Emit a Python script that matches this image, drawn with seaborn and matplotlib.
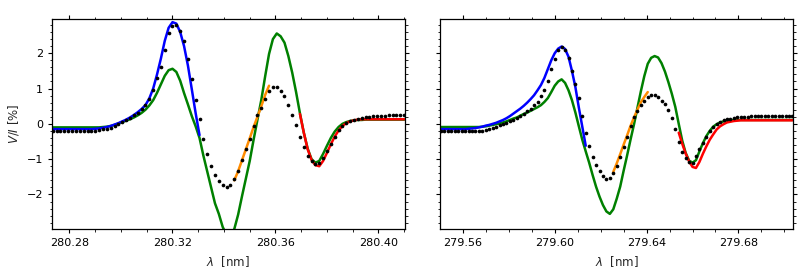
import numpy as np
import seaborn as sns
import matplotlib
matplotlib.use("Agg")
import matplotlib.pyplot as plt
from matplotlib.ticker import MultipleLocator, FormatStrFormatter

# wavelength sampling (nm)
STEP = 0.0015

# ---- left panel (280.3 nm line) ----
wl_left_start = 280.2735
obs_left = [-0.20] * 9 + [-0.19] * 3 + [
    -0.18, -0.16, -0.14, -0.11, -0.06, -0.01, 0.04, 0.10, 0.17, 0.24,
    0.32, 0.43, 0.54, 0.69, 0.97, 1.30, 1.62, 2.10, 2.56, 2.78,
    2.79, 2.64, 2.35, 1.85, 1.27, 0.68, 0.15, -0.43, -0.85, -1.20,
    -1.45, -1.63, -1.73, -1.78, -1.73, -1.57, -1.33, -1.02, -0.72, -0.42,
    -0.07, 0.24, 0.46, 0.70, 0.92, 1.04, 1.05, 0.93, 0.78, 0.53,
    0.26, -0.04, -0.36, -0.65, -0.92, -1.06, -1.14, -1.12, -0.98, -0.77,
    -0.57, -0.36, -0.18, -0.05, 0.03, 0.08, 0.11, 0.14, 0.16, 0.18,
    0.20, 0.21, 0.22, 0.23, 0.23, 0.24, 0.24, 0.24, 0.24, 0.24]
green_left = [-0.10] * 13 + [
    -0.09, -0.08, -0.06, -0.03, 0.01, 0.05, 0.09, 0.13, 0.18, 0.24,
    0.31, 0.40, 0.52, 0.67, 0.88, 1.12, 1.36, 1.52, 1.56, 1.47,
    1.22, 0.87, 0.55, 0.22, -0.07, -0.40, -0.90, -1.35, -1.80, -2.25,
    -2.55, -2.92, -3.15, -3.18, -2.98, -2.57, -2.05, -1.55, -1.05, -0.45,
    0.12, 0.68, 1.35, 1.98, 2.40, 2.56, 2.48, 2.30, 1.92, 1.45,
    0.90, 0.30, -0.25, -0.70, -1.00, -1.10, -1.05, -0.85, -0.62, -0.40,
    -0.22, -0.09, 0.00, 0.05, 0.08, 0.10, 0.11, 0.11] + [0.12] * 11
blue_left_start = 280.2735
blue_left = [-0.15] * 11 + [
    -0.14, -0.13, -0.11, -0.09, -0.06, -0.02, 0.02, 0.07, 0.12, 0.18,
    0.25, 0.33, 0.42, 0.53, 0.72, 1.00, 1.40, 1.85, 2.35, 2.72,
    2.88, 2.84, 2.60, 2.20, 1.65, 0.98, 0.30, -0.32]
orange_left_start = 280.3440
orange_left = [-1.60, -1.34, -1.03, -0.72, -0.41, -0.09, 0.20, 0.50, 0.82, 1.08]
red_left_start = 280.3695
red_left = [0.28, -0.25, -0.72, -1.02, -1.17, -1.20, -1.05, -0.82, -0.58, -0.36,
            -0.19, -0.06, 0.02, 0.07, 0.10, 0.12] + [0.13] * 12

# ---- right panel (279.6 nm line) ----
wl_right_start = 279.5505
obs_right = [-0.20] * 12 + [
    -0.19, -0.17, -0.15, -0.12, -0.08, -0.04, 0.00, 0.03, 0.07, 0.12,
    0.17, 0.22, 0.28, 0.36, 0.43, 0.52, 0.62, 0.78, 0.95, 1.20,
    1.54, 1.85, 2.08, 2.17, 2.10, 1.86, 1.50, 1.14, 0.72, 0.22,
    -0.25, -0.62, -0.95, -1.17, -1.34, -1.49, -1.55, -1.52, -1.39, -1.20,
    -0.95, -0.66, -0.36, -0.05, 0.18, 0.36, 0.52, 0.65, 0.75, 0.81,
    0.81, 0.76, 0.66, 0.55, 0.40, 0.16, -0.15, -0.50, -0.80, -0.98,
    -1.08, -1.10, -0.90, -0.72, -0.54, -0.37, -0.20, -0.08, 0.00, 0.06,
    0.10, 0.13, 0.15, 0.17, 0.18, 0.19, 0.20, 0.20] + [0.21] * 6 + [0.22] * 7
green_right = [-0.09] * 12 + [
    -0.08, -0.07, -0.05, -0.03, -0.01, 0.01, 0.04, 0.07, 0.11, 0.15,
    0.18, 0.23, 0.28, 0.32, 0.37, 0.42, 0.47, 0.53, 0.62, 0.73,
    0.90, 1.08, 1.20, 1.26, 1.16, 0.95, 0.67, 0.32, -0.07, -0.45,
    -0.78, -1.10, -1.45, -1.78, -2.06, -2.30, -2.48, -2.55, -2.42, -2.12,
    -1.78, -1.33, -0.90, -0.45, -0.02, 0.45, 0.92, 1.35, 1.70, 1.87,
    1.92, 1.88, 1.72, 1.48, 1.18, 0.85, 0.48, 0.00, -0.47, -0.82,
    -1.04, -1.10, -1.03, -0.78, -0.55, -0.35, -0.20, -0.08, -0.01, 0.04,
    0.07, 0.09, 0.10] + [0.11] * 18
blue_right_start = 279.5505
blue_right = [-0.15] * 8 + [
    -0.14, -0.13, -0.12, -0.10, -0.08, -0.05, -0.03, 0.00, 0.03, 0.07,
    0.11, 0.16, 0.22, 0.29, 0.36, 0.43, 0.51, 0.60, 0.70, 0.81,
    0.95, 1.10, 1.30, 1.55, 1.80, 2.00, 2.13, 2.19, 2.12, 1.90,
    1.50, 1.04, 0.46, -0.08, -0.62]
orange_right_start = 279.6255
orange_right = [-1.36, -1.12, -0.86, -0.59, -0.33, -0.06, 0.18, 0.40, 0.61, 0.76, 0.90]
red_right_start = 279.6540
red_right = [-0.25, -0.56, -0.84, -1.06, -1.22, -1.25, -1.08, -0.85, -0.64, -0.45,
             -0.30, -0.16, -0.07, -0.01, 0.04, 0.06, 0.08, 0.09] + [0.10] * 16

x_ticks_left = [280.28, 280.32, 280.36, 280.40]
x_ticks_right = [279.56, 279.60, 279.64, 279.68]


def grid(start, values):
    return start + STEP * np.arange(len(values))


def draw_panel(ax, wl_start, obs, green, blue, orange, red, xlim, xticks):
    kw = dict(ax=ax, linewidth=1.8, estimator=None, errorbar=None, legend=False)
    sns.lineplot(x=grid(wl_start, green), y=green, color="green", **kw)
    sns.lineplot(x=grid(blue[0], blue[1]), y=blue[1], color="blue", **kw)
    sns.lineplot(x=grid(orange[0], orange[1]), y=orange[1], color="darkorange", **kw)
    sns.lineplot(x=grid(red[0], red[1]), y=red[1], color="red", **kw)
    sns.scatterplot(x=grid(wl_start, obs), y=obs, color="black", s=7,
                    linewidth=0, ax=ax, zorder=5, legend=False)
    ax.set_xlim(*xlim)
    ax.set_xticks(xticks)
    ax.xaxis.set_major_formatter(FormatStrFormatter("%.2f"))
    ax.xaxis.set_minor_locator(MultipleLocator(0.01))
    ax.yaxis.set_major_locator(MultipleLocator(1))
    ax.yaxis.set_minor_locator(MultipleLocator(0.2))
    ax.tick_params(which="both", direction="out", top=True, right=True,
                   labelsize=8, colors="black")
    ax.tick_params(which="major", length=3, width=0.8)
    ax.tick_params(which="minor", length=1.8, width=0.6)
    for sp in ax.spines.values():
        sp.set_visible(True)
        sp.set_color("black")
        sp.set_linewidth(0.9)
    ax.set_xlabel(r"$\lambda$  [nm]", fontsize=8.5)


sns.set_style("ticks")
plt.rcParams["font.family"] = ["DejaVu Sans"]

fig, axes = plt.subplots(1, 2, figsize=(8.06, 2.74), dpi=100, sharey=True)
fig.subplots_adjust(left=0.0645, right=0.984, bottom=0.164, top=0.932, wspace=0.101)

draw_panel(axes[0], wl_left_start, obs_left, green_left,
           (blue_left_start, blue_left), (orange_left_start, orange_left),
           (red_left_start, red_left), (280.2732, 280.4102), x_ticks_left)
draw_panel(axes[1], wl_right_start, obs_right, green_right,
           (blue_right_start, blue_right), (orange_right_start, orange_right),
           (red_right_start, red_right), (279.5502, 279.7038), x_ticks_right)

axes[0].set_ylim(-2.98, 2.98)
axes[0].set_ylabel(r"$V/I$ [%]", fontsize=8.5)
axes[1].set_ylabel("")
axes[1].tick_params(labelleft=False)

fig.savefig("out.png", dpi=100)
